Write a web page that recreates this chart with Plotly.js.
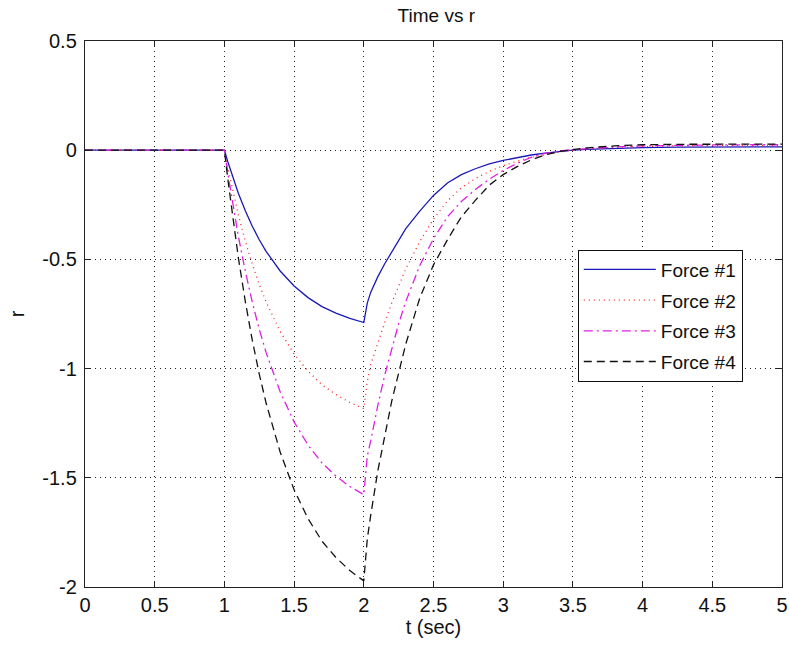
<!DOCTYPE html>
<html>
<head>
<meta charset="utf-8">
<script src="https://cdn.plot.ly/plotly-3.0.1.min.js"></script>
<style>html,body{margin:0;padding:0;background:#fff;}#chart{width:789px;height:649px;}</style>
</head>
<body>
<div id="chart"></div>
<script>
const t = [0, 1, 1.025, 1.05, 1.1, 1.15, 1.2, 1.25, 1.3, 1.4, 1.5, 1.6, 1.7, 1.8, 1.9, 2.0,
  2.025, 2.05, 2.1, 2.15, 2.2, 2.25, 2.3, 2.4, 2.5, 2.6, 2.7, 2.8, 2.9, 3.0, 3.1, 3.2, 3.3, 3.4, 3.5,
  3.6, 3.8, 4.0, 4.25, 4.5, 4.75, 5.0];

const force1 = [0, 0, -0.054, -0.105, -0.197, -0.277, -0.348, -0.410, -0.464, -0.553, -0.622, -0.675, -0.716, -0.746, -0.770, -0.789,
  -0.70, -0.65, -0.58, -0.52, -0.465, -0.41, -0.36, -0.28, -0.207, -0.15, -0.112, -0.085, -0.063, -0.047, -0.033, -0.022, -0.013, -0.006, 0.0,
  0.004, 0.009, 0.012, 0.014, 0.015, 0.015, 0.015];

const force2 = [0, 0, -0.081, -0.158, -0.296, -0.416, -0.522, -0.615, -0.696, -0.83, -0.933, -1.012, -1.074, -1.119, -1.155, -1.183,
  -1.06, -0.98, -0.88, -0.79, -0.70, -0.62, -0.545, -0.42, -0.315, -0.232, -0.172, -0.13, -0.097, -0.071, -0.05, -0.033, -0.02, -0.009, 0.0,
  0.006, 0.013, 0.017, 0.02, 0.021, 0.021, 0.021];

const force3 = [0, 0, -0.108, -0.21, -0.394, -0.554, -0.696, -0.82, -0.928, -1.106, -1.244, -1.35, -1.432, -1.492, -1.54, -1.577,
  -1.40, -1.33, -1.17, -1.03, -0.91, -0.795, -0.695, -0.53, -0.405, -0.305, -0.235, -0.18, -0.133, -0.093, -0.06, -0.033, -0.015, -0.004, 0.003,
  0.008, 0.015, 0.02, 0.023, 0.024, 0.025, 0.025];

const force4 = [0, 0, -0.135, -0.262, -0.492, -0.693, -0.87, -1.025, -1.16, -1.382, -1.555, -1.687, -1.79, -1.865, -1.925, -1.972,
  -1.78, -1.67, -1.47, -1.31, -1.15, -1.02, -0.89, -0.68, -0.525, -0.41, -0.305, -0.23, -0.16, -0.112, -0.075, -0.045, -0.022, -0.006, 0.004,
  0.011, 0.02, 0.025, 0.027, 0.028, 0.028, 0.028];

const seriesNames = ["Force #1", "Force #2", "Force #3", "Force #4"];
const xTickVals = [0, 0.5, 1, 1.5, 2, 2.5, 3, 3.5, 4, 4.5, 5];
const xTickText = ["0", "0.5", "1", "1.5", "2", "2.5", "3", "3.5", "4", "4.5", "5"];
const yTickVals = [-2, -1.5, -1, -0.5, 0, 0.5];
const yTickText = ["-2", "-1.5", "-1", "-0.5", "0", "0.5"];

const FONT = "Liberation Sans, Arial, sans-serif";

const traces = [
  {x: t, y: force1, name: seriesNames[0], legendgroup: "g1", mode: "lines", line: {color: "#1a1ab8", width: 1.3, dash: "solid"}},
  {x: t, y: force2, name: seriesNames[1], legendgroup: "g2", mode: "lines", line: {color: "#ff2020", width: 1.3, dash: "1px,4px"}},
  {x: t, y: force3, name: seriesNames[2], legendgroup: "g3", mode: "lines", line: {color: "#e020e0", width: 1.3, dash: "9px,4px,2px,4px"}},
  {x: t, y: force4, name: seriesNames[3], legendgroup: "g4", mode: "lines", line: {color: "#111111", width: 1.3, dash: "8px,5px"}}
];

const axisCommon = {
  showline: true, linecolor: "#222", linewidth: 1.2, mirror: "ticks",
  ticks: "inside", ticklen: 6, tickcolor: "#222", tickwidth: 1,
  showgrid: true, gridcolor: "#222", gridwidth: 1, griddash: "1px,4px",
  zeroline: false, tickfont: {family: FONT, size: 20, color: "#111"}
};

const layout = {
  width: 789, height: 649,
  margin: {l: 85, r: 7, t: 41, b: 62},
  paper_bgcolor: "#fff", plot_bgcolor: "#fff",
  title: {text: "Time vs r", font: {family: FONT, size: 19, color: "#111"}, x: 0.553, xanchor: "center", y: 0.976, yanchor: "middle"},
  xaxis: Object.assign({}, axisCommon, {
    range: [0, 5], tickmode: "array", tickvals: xTickVals, ticktext: xTickText, ticklabelstandoff: 0,
    title: {text: "t (sec)", font: {family: FONT, size: 20, color: "#111"}, standoff: 4}
  }),
  yaxis: Object.assign({}, axisCommon, {
    range: [-2, 0.5], tickmode: "array", tickvals: yTickVals, ticktext: yTickText, ticklabelstandoff: 3,
    title: {text: "r", font: {family: FONT, size: 20, color: "#111"}, standoff: 12}
  }),
  showlegend: true,
  legend: {
    x: 0.707, y: 0.618, xanchor: "left", yanchor: "top",
    bgcolor: "#fff", bordercolor: "#111", borderwidth: 1,
    font: {family: FONT, size: 19, color: "#111"},
    tracegroupgap: 3, itemwidth: 72
  }
};

Plotly.newPlot("chart", traces, layout, {staticPlot: true, displayModeBar: false});
</script>
</body>
</html>
